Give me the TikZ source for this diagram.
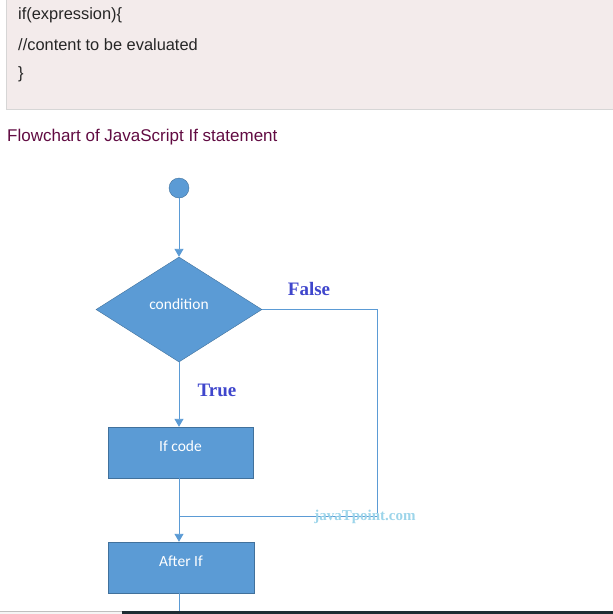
\documentclass[tikz,border=0pt]{standalone}
\usepackage{fontspec}
\setmainfont{Liberation Sans}
\newfontfamily\calibrif{Carlito}
\newfontfamily\timesf{Liberation Serif}
\usetikzlibrary{arrows.meta,shapes.geometric,positioning}
\definecolor{codebg}{RGB}{243,235,235}
\definecolor{codeline}{RGB}{214,214,214}
\definecolor{headcol}{RGB}{97,11,66}
\definecolor{flowblue}{RGB}{91,155,213}
\definecolor{flowedge}{RGB}{65,113,156}
\definecolor{labelblue}{RGB}{63,70,204}
\definecolor{markcol}{RGB}{157,213,234}
\definecolor{barcol}{RGB}{30,45,51}
\tikzset{
  codetext/.style={anchor=west,inner sep=0pt,font=\fontsize{16.4}{19}\selectfont,text=black!85},
  flowbox/.style={draw=flowedge,fill=flowblue,inner sep=0pt},
  boxtext/.style={text=white,font=\calibrif\fontsize{15.5}{18}\selectfont},
  flowline/.style={draw=flowblue,line width=0.9pt},
  flowarrow/.style={flowline,-{Triangle[width=9pt,length=8pt]}},
  branch/.style={font=\timesf\bfseries\fontsize{19}{22}\selectfont,text=labelblue},
}
\begin{document}
\begin{tikzpicture}[x=1pt,y=-1pt]
\useasboundingbox (0,0) rectangle (613,614);
% code block
\fill[codebg] (6,-2) rectangle (616,109);
\draw[codeline,line width=1pt] (6,-2) -- (6,109) -- (616,109);
\node[codetext] (line1) at (18,15) {if(expression)\{};
\node[codetext] (line2) at (18,45) {//content to be evaluated};
\node[codetext] (line3) at (18,74) {\}};
\node[anchor=west,inner sep=0pt,font=\fontsize{17}{20}\selectfont,text=headcol] (title) at (7,137) {Flowchart of JavaScript If statement};
% flowchart
\node[circle,flowbox,minimum size=20pt] (start) at (179,188) {};
\node[diamond,flowbox,aspect=1.58,minimum width=166pt,minimum height=105pt,
  label={[boxtext,yshift=5pt]center:condition}] (cond) at (179,309.5) {};
\node[rectangle,flowbox,minimum width=145pt,minimum height=51pt,
  label={[boxtext,yshift=6pt]center:If code}] (ifcode) at (180.5,452.5) {};
\node[rectangle,flowbox,minimum width=146pt,minimum height=51pt,
  label={[boxtext,yshift=6pt]center:After If}] (afterif) at (181,567.5) {};
\node[branch] (false) at (309,289) {False};
\node[branch] (true) at (217,390) {True};
\coordinate (loop) at (377,516);
\coordinate (join) at (180,516);
\coordinate (exit) at (179,616);
\draw[flowarrow] (start) -- (cond.north);
\draw[flowarrow] (cond.south) -- (cond.south |- ifcode.north);
\draw[flowline] (cond.east) -| (loop) -- (join);
\draw[flowarrow] (cond.south |- ifcode.south) -- (cond.south |- afterif.north);
\draw[flowline] (cond.south |- afterif.south) -- (exit);
\node[font=\timesf\bfseries\fontsize{15}{17}\selectfont,text=markcol] (mark) at (365,517) {javaTpoint.com};
% bottom bar
\fill[black!4] (0,611) rectangle (122,615);
\draw[black!25,line width=0.8pt] (0,611) -- (122,611);
\fill[barcol] (122,611) rectangle (614,615);
\end{tikzpicture}
\end{document}
